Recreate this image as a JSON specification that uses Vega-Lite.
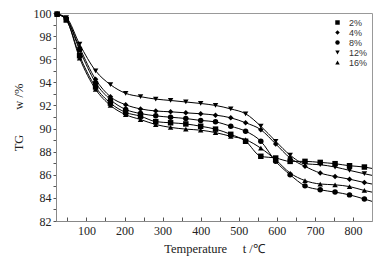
{
  "$schema": "https://vega.github.io/schema/vega-lite/v6.json",
  "autosize": "none",
  "width": 316,
  "height": 208,
  "padding": {"left": 56, "top": 13, "right": 19, "bottom": 40},
  "background": "white",
  "config": {
    "view": {"stroke": "#999999", "strokeWidth": 1},
    "axis": {"labelFont": "Liberation Serif", "titleFont": "Liberation Serif", "labelFontSize": 12, "titleFontSize": 12.5, "titleFontWeight": "normal", "labelColor": "#222", "titleColor": "#222", "grid": false, "domainColor": "#888", "tickColor": "#555"}
  },
  "data": {"values": [
    {"T": 23, "s": "12%", "w": 99.9}, {"T": 47, "s": "12%", "w": 99.6}, {"T": 82, "s": "12%", "w": 97.3}, {"T": 124, "s": "12%", "w": 95.0}, {"T": 163, "s": "12%", "w": 93.8}, {"T": 203, "s": "12%", "w": 93.05}, {"T": 242, "s": "12%", "w": 92.76}, {"T": 282, "s": "12%", "w": 92.55}, {"T": 321, "s": "12%", "w": 92.43}, {"T": 361, "s": "12%", "w": 92.3}, {"T": 400, "s": "12%", "w": 92.17}, {"T": 439, "s": "12%", "w": 92.0}, {"T": 479, "s": "12%", "w": 91.7}, {"T": 518, "s": "12%", "w": 91.28}, {"T": 558, "s": "12%", "w": 90.2}, {"T": 597, "s": "12%", "w": 88.9}, {"T": 635, "s": "12%", "w": 87.7}, {"T": 674, "s": "12%", "w": 86.95}, {"T": 714, "s": "12%", "w": 86.87}, {"T": 753, "s": "12%", "w": 86.67}, {"T": 791, "s": "12%", "w": 86.38}, {"T": 830, "s": "12%", "w": 86.09}, {"T": 850, "s": "12%", "w": 85.95},
    {"T": 23, "s": "4%", "w": 99.9}, {"T": 47, "s": "4%", "w": 99.5}, {"T": 82, "s": "4%", "w": 97.0}, {"T": 124, "s": "4%", "w": 94.26}, {"T": 163, "s": "4%", "w": 92.75}, {"T": 203, "s": "4%", "w": 92.06}, {"T": 242, "s": "4%", "w": 91.7}, {"T": 282, "s": "4%", "w": 91.52}, {"T": 321, "s": "4%", "w": 91.45}, {"T": 361, "s": "4%", "w": 91.36}, {"T": 400, "s": "4%", "w": 91.28}, {"T": 439, "s": "4%", "w": 91.16}, {"T": 479, "s": "4%", "w": 90.93}, {"T": 518, "s": "4%", "w": 90.5}, {"T": 558, "s": "4%", "w": 89.9}, {"T": 597, "s": "4%", "w": 88.67}, {"T": 635, "s": "4%", "w": 87.45}, {"T": 674, "s": "4%", "w": 86.73}, {"T": 714, "s": "4%", "w": 86.15}, {"T": 753, "s": "4%", "w": 85.85}, {"T": 791, "s": "4%", "w": 85.62}, {"T": 830, "s": "4%", "w": 85.33}, {"T": 850, "s": "4%", "w": 85.2},
    {"T": 23, "s": "8%", "w": 99.9}, {"T": 47, "s": "8%", "w": 99.5}, {"T": 82, "s": "8%", "w": 96.8}, {"T": 124, "s": "8%", "w": 93.97}, {"T": 163, "s": "8%", "w": 92.5}, {"T": 203, "s": "8%", "w": 91.65}, {"T": 242, "s": "8%", "w": 91.3}, {"T": 282, "s": "8%", "w": 91.1}, {"T": 321, "s": "8%", "w": 90.98}, {"T": 361, "s": "8%", "w": 90.87}, {"T": 400, "s": "8%", "w": 90.7}, {"T": 439, "s": "8%", "w": 90.58}, {"T": 479, "s": "8%", "w": 90.2}, {"T": 518, "s": "8%", "w": 89.77}, {"T": 558, "s": "8%", "w": 88.9}, {"T": 597, "s": "8%", "w": 87.16}, {"T": 635, "s": "8%", "w": 86.0}, {"T": 674, "s": "8%", "w": 85.04}, {"T": 714, "s": "8%", "w": 84.7}, {"T": 753, "s": "8%", "w": 84.5}, {"T": 791, "s": "8%", "w": 84.26}, {"T": 830, "s": "8%", "w": 83.9}, {"T": 850, "s": "8%", "w": 83.7},
    {"T": 23, "s": "2%", "w": 99.9}, {"T": 47, "s": "2%", "w": 99.4}, {"T": 82, "s": "2%", "w": 96.3}, {"T": 124, "s": "2%", "w": 93.6}, {"T": 163, "s": "2%", "w": 92.2}, {"T": 203, "s": "2%", "w": 91.4}, {"T": 242, "s": "2%", "w": 91.07}, {"T": 282, "s": "2%", "w": 90.6}, {"T": 321, "s": "2%", "w": 90.5}, {"T": 361, "s": "2%", "w": 90.4}, {"T": 400, "s": "2%", "w": 90.2}, {"T": 439, "s": "2%", "w": 89.95}, {"T": 479, "s": "2%", "w": 89.5}, {"T": 518, "s": "2%", "w": 88.9}, {"T": 558, "s": "2%", "w": 87.6}, {"T": 597, "s": "2%", "w": 87.45}, {"T": 635, "s": "2%", "w": 87.16}, {"T": 674, "s": "2%", "w": 87.16}, {"T": 714, "s": "2%", "w": 87.07}, {"T": 753, "s": "2%", "w": 86.96}, {"T": 791, "s": "2%", "w": 86.78}, {"T": 830, "s": "2%", "w": 86.67}, {"T": 850, "s": "2%", "w": 86.55},
    {"T": 23, "s": "16%", "w": 99.9}, {"T": 47, "s": "16%", "w": 99.4}, {"T": 82, "s": "16%", "w": 96.1}, {"T": 124, "s": "16%", "w": 93.4}, {"T": 163, "s": "16%", "w": 92.0}, {"T": 203, "s": "16%", "w": 91.2}, {"T": 242, "s": "16%", "w": 90.78}, {"T": 282, "s": "16%", "w": 90.35}, {"T": 321, "s": "16%", "w": 90.1}, {"T": 361, "s": "16%", "w": 89.95}, {"T": 400, "s": "16%", "w": 89.86}, {"T": 439, "s": "16%", "w": 89.65}, {"T": 479, "s": "16%", "w": 89.33}, {"T": 518, "s": "16%", "w": 89.04}, {"T": 558, "s": "16%", "w": 88.3}, {"T": 597, "s": "16%", "w": 87.3}, {"T": 635, "s": "16%", "w": 86.15}, {"T": 674, "s": "16%", "w": 85.5}, {"T": 714, "s": "16%", "w": 85.2}, {"T": 753, "s": "16%", "w": 85.13}, {"T": 791, "s": "16%", "w": 84.98}, {"T": 830, "s": "16%", "w": 84.64}, {"T": 850, "s": "16%", "w": 84.5}
  ]},
  "encoding": {
    "x": {"field": "T", "type": "quantitative", "scale": {"domain": [20, 850], "nice": false, "zero": false},
      "axis": {"title": "Temperature\u00a0\u00a0\u00a0\u00a0\u00a0t\u00a0/℃", "values": [50, 100, 150, 200, 250, 300, 350, 400, 450, 500, 550, 600, 650, 700, 750, 800], "labelExpr": "datum.value % 100 == 0 ? datum.label : ''", "tickSize": -4, "labelPadding": 8, "titlePadding": 6}},
    "y": {"field": "w", "type": "quantitative", "scale": {"domain": [82, 100], "nice": false, "zero": false},
      "axis": {"title": "TG\u00a0\u00a0\u00a0\u00a0\u00a0\u00a0\u00a0\u00a0w\u00a0/%", "values": [82, 83, 84, 85, 86, 87, 88, 89, 90, 91, 92, 93, 94, 95, 96, 97, 98, 99, 100], "labelExpr": "datum.value % 2 == 0 ? datum.label : ''", "tickSize": 3, "labelPadding": 2, "titlePadding": 8}}
  },
  "layer": [
    {"mark": {"type": "line", "interpolate": "monotone", "color": "black", "strokeWidth": 1}, "encoding": {"detail": {"field": "s"}}},
    {"transform": [{"filter": "datum.T < 845"}],
     "mark": {"type": "point", "filled": true, "color": "black", "opacity": 1, "size": 30},
     "encoding": {"shape": {"field": "s", "type": "nominal",
       "scale": {"domain": ["2%", "4%", "8%", "12%", "16%"], "range": ["square", "diamond", "circle", "triangle-down", "triangle-up"]},
       "legend": {"title": null, "orient": "none", "legendX": 277, "legendY": 5, "labelFont": "Liberation Sans", "labelFontSize": 9, "labelColor": "#333", "symbolSize": 20, "symbolFillColor": "black", "symbolStrokeColor": "black", "rowPadding": -1, "labelOffset": 7}}}}
  ]
}
